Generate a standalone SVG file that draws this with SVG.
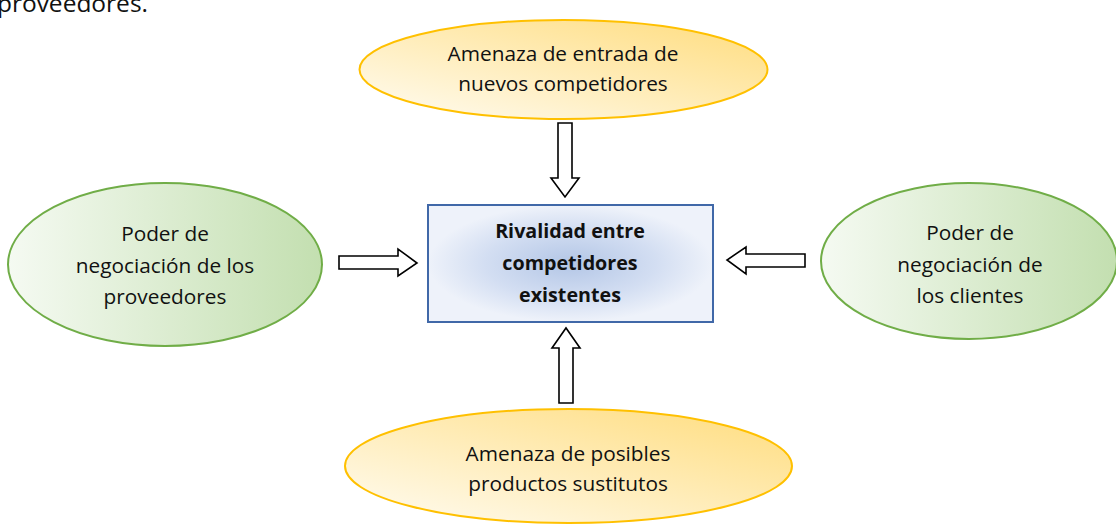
<svg xmlns="http://www.w3.org/2000/svg" width="1116" height="525" viewBox="0 0 1116 525">
<defs>
<linearGradient id="gY" x1="0" y1="1" x2="1" y2="0">
<stop offset="0" stop-color="#fffcf3"/>
<stop offset="1" stop-color="#ffdc7c"/>
</linearGradient>
<linearGradient id="gG" x1="0" y1="0" x2="1" y2="0">
<stop offset="0" stop-color="#f5faf2"/>
<stop offset="1" stop-color="#c3dfb0"/>
</linearGradient>
<radialGradient id="gB" cx="0.5" cy="0.5" r="0.5">
<stop offset="0" stop-color="#b3c6e6"/>
<stop offset="0.6" stop-color="#d3def2"/>
<stop offset="1" stop-color="#eef2fa"/>
</radialGradient>
<clipPath id="clipTop"><rect x="350" y="20" width="430" height="73.5"/></clipPath>
</defs>
<style>
.yel{fill:url(#gY);stroke:#ffc000;stroke-width:2}
.grn{fill:url(#gG);stroke:#70ad47;stroke-width:2}
.t{font-family:"Open Sans","Liberation Sans",Arial,sans-serif;font-size:20.8px;fill:#111;text-anchor:middle}
.b{font-weight:bold;font-size:19.7px}
.arr{fill:#fff;stroke:#000;stroke-width:1.6;stroke-linejoin:miter}
</style>
<text class="t" x="148" y="12" style="text-anchor:end;font-size:24.5px">proveedores.</text>
<g id="connectors">
<polygon class="arr" points="558,123 572,123 572,178 579,178 565,197 551,178 558,178"/>
<polygon class="arr" points="559,403 573,403 573,348 580,348 566,328 552,348 559,348"/>
<polygon class="arr" points="339,256 398,256 398,249 417,263 398,276 398,269 339,269"/>
<polygon class="arr" points="805,254 746,254 746,247 727,260 746,274 746,267 805,267"/>
</g>
<g id="n-top">
<ellipse class="yel" cx="563.5" cy="69.5" rx="204" ry="49.5"/>
<g clip-path="url(#clipTop)">
<text class="t" x="563" y="61">Amenaza de entrada de</text>
<text class="t" x="563" y="91">nuevos competidores</text>
</g>
</g>
<g id="n-left">
<ellipse class="grn" cx="165" cy="264.5" rx="157" ry="81.5"/>
<text class="t" x="165" y="241">Poder de</text>
<text class="t" x="165" y="272.5">negociación de los</text>
<text class="t" x="165" y="304">proveedores</text>
</g>
<g id="n-center">
<rect x="428" y="205" width="285" height="117" fill="url(#gB)" stroke="#4068a8" stroke-width="2"/>
<text class="t b" x="570" y="238">Rivalidad entre</text>
<text class="t b" x="570" y="270">competidores</text>
<text class="t b" x="570" y="302">existentes</text>
</g>
<g id="n-right">
<ellipse class="grn" cx="969" cy="261" rx="148" ry="78"/>
<text class="t" x="970" y="240">Poder de</text>
<text class="t" x="970" y="272">negociación de</text>
<text class="t" x="970" y="303">los clientes</text>
</g>
<g id="n-bottom">
<ellipse class="yel" cx="568.5" cy="466" rx="223.5" ry="57"/>
<text class="t" x="568" y="461">Amenaza de posibles</text>
<text class="t" x="568" y="491">productos sustitutos</text>
</g>
</svg>
